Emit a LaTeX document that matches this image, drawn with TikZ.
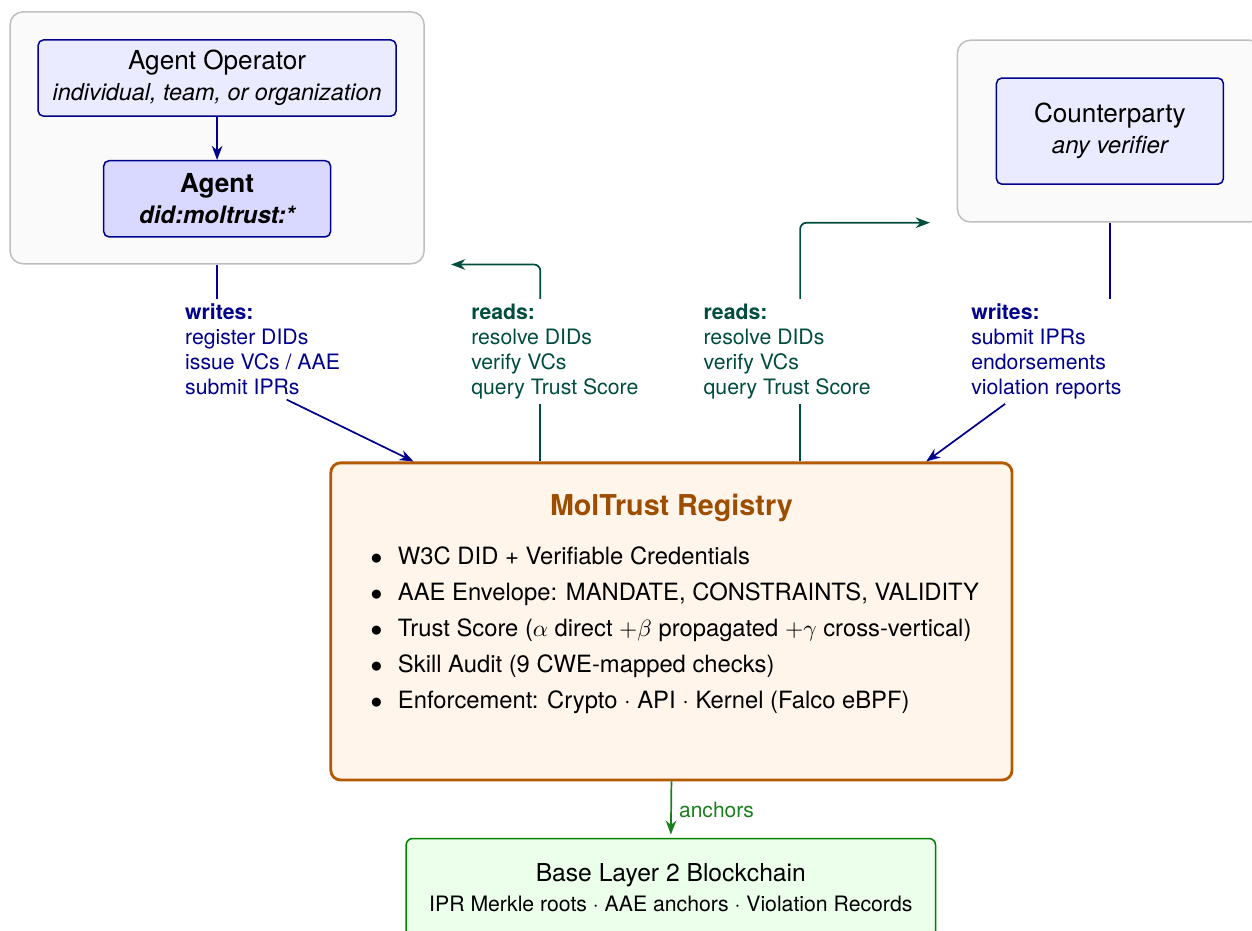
\documentclass[tikz,border=0pt]{standalone}
\usepackage{fontspec}
\setmainfont{TeX Gyre Heros}
\usepackage{xcolor}
\usetikzlibrary{positioning}
\usetikzlibrary{arrows.meta}

\definecolor{wrblue}{HTML}{00008B}
\definecolor{rdteal}{HTML}{004D40}
\definecolor{regbrown}{HTML}{B35900}
\definecolor{regtitle}{HTML}{9C4D00}
\definecolor{ancgreen}{HTML}{1A7F1A}

\begin{document}
\begin{tikzpicture}[
    outer/.style={draw=gray!50, fill=gray!4, line width=0.7pt, rounded corners=6pt},
    actor/.style={draw=wrblue, fill=blue!8, line width=0.7pt, rounded corners=2.5pt, align=center, font=\fontsize{12.2}{14.5}\selectfont},
    tag/.style={align=left, anchor=north west, inner sep=2pt, font=\fontsize{9.9}{11.7}\selectfont},
    wr/.style={thick, draw=wrblue, -{Stealth}},
    rd/.style={thick, draw=rdteal, rounded corners=3pt}
  ]
  \useasboundingbox (0,0) rectangle (20.53,-15.25);
  \clip (0,0) rectangle (20.53,-15.25);

  % operator side
  \node[outer, minimum width=6.79cm, minimum height=4.13cm] (lbox) at (3.56,-2.26) {};
  \node[actor, minimum width=5.87cm, minimum height=1.25cm] (op) at (3.56,-1.28) {Agent Operator\\{\fontsize{10.9}{13}\selectfont\itshape individual, team, or organization}};
  \node[actor, fill=blue!15, minimum width=3.72cm, minimum height=1.25cm] (agent) at (3.56,-3.26) {\textbf{Agent}\\{\fontsize{11.2}{13}\selectfont\bfseries\itshape did:moltrust:*}};
  \draw [thick, draw=wrblue, -{Stealth}] (op) -- (agent);

  % counterparty side
  \node[outer, minimum width=5.00cm, minimum height=2.98cm] (rbox) at (18.20,-2.15) {};
  \node[actor, minimum width=3.72cm, minimum height=1.74cm] (cp) at (18.20,-2.15) {Counterparty\\{\fontsize{11.2}{13}\selectfont\itshape any verifier}};

  % registry
  \node[draw=regbrown, fill=orange!8, line width=1.3pt, rounded corners=4.5pt, minimum width=11.17cm, minimum height=5.20cm] (reg) at (11.01,-10.19) {};
  \node[anchor=base, text=regtitle, font=\fontsize{13.4}{16}\selectfont\bfseries] (regT) at ([yshift=-0.89cm]reg.north) {MolTrust Registry};
  \node[anchor=north west, inner sep=0pt, align=left, font=\fontsize{11.1}{16.8}\selectfont] (regL) at (6.07,-8.96) {%
    $\bullet$\hspace{7.3pt}W3C DID + Verifiable Credentials\\
    $\bullet$\hspace{7.3pt}AAE Envelope: MANDATE, CONSTRAINTS, VALIDITY\\
    $\bullet$\hspace{7.3pt}Trust Score ($\alpha$ direct $+\beta$ propagated $+\gamma$ cross-vertical)\\
    $\bullet$\hspace{7.3pt}Skill Audit (9 CWE-mapped checks)\\
    $\bullet$\hspace{7.3pt}Enforcement: Crypto · API · Kernel (Falco eBPF)};

  % blockchain
  \node[draw=green!50!black, fill=green!8, line width=0.7pt, rounded corners=3pt, minimum width=8.68cm, minimum height=1.62cm, align=center, font=\fontsize{11.5}{14}\selectfont] (chain) at (11.00,-14.56) {Base Layer 2 Blockchain\\{\fontsize{9.9}{12}\selectfont IPR Merkle roots · AAE anchors · Violation Records}};
  \draw [thick, draw=ancgreen, -{Stealth}, shorten >=1.5pt] (reg.south) -- (chain.north) node[midway, right, text=ancgreen, font=\fontsize{9.8}{12}\selectfont] (ancL) {anchors};

  % labels
  \node[tag, text=wrblue] (wrL) at (2.96,-4.90) {\textbf{writes:}\\register DIDs\\issue VCs / AAE\\submit IPRs};
  \node[tag, text=rdteal] (rdL) at (7.65,-4.90) {\textbf{reads:}\\resolve DIDs\\verify VCs\\query Trust Score};
  \node[tag, text=rdteal] (rdR) at (11.46,-4.90) {\textbf{reads:}\\resolve DIDs\\verify VCs\\query Trust Score};
  \node[tag, text=wrblue] (wrR) at (15.85,-4.90) {\textbf{writes:}\\submit IPRs\\endorsements\\violation reports};

  % writes
  \draw [thick, draw=wrblue] (lbox.south) -- (lbox.south |- wrL.north);
  \draw [wr] ([xshift=1.74cm]wrL.south west) -- ([xshift=1.38cm]reg.north west);
  \draw [thick, draw=wrblue] (rbox.south) -- (rbox.south |- wrR.north);
  \draw [wr] ([xshift=0.63cm]wrR.south west) -- ([xshift=-1.43cm]reg.north east);

  % reads
  \coordinate (rdA) at ([xshift=-2.15cm]reg.north);
  \draw [rd] (rdA) -- (rdA |- rdL.south);
  \draw [rd, -{Stealth}] (rdA |- rdL.north) |- ([xshift=0.43cm]lbox.south east);
  \coordinate (rdB) at ([xshift=2.11cm]reg.north);
  \draw [rd] (rdB) -- (rdB |- rdR.south);
  \draw [rd, -{Stealth}] (rdB |- rdR.north) |- ([xshift=-0.44cm]rbox.south west);
\end{tikzpicture}
\end{document}
